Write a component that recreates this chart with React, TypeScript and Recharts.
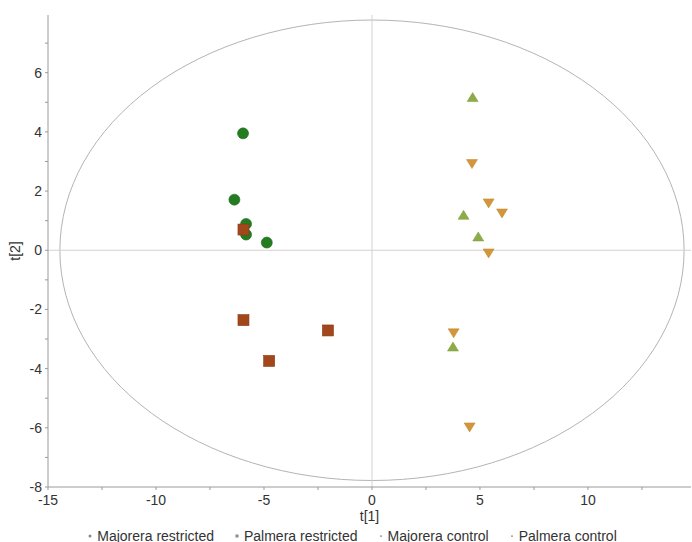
import {
  ScatterChart,
  Scatter,
  XAxis,
  YAxis,
  ReferenceLine,
  ReferenceArea,
  Legend,
} from "recharts";

// score values
const majoreraRestrictedT1 = [-5.97, -6.37, -5.83, -5.83, -4.87];
const majoreraRestrictedT2 = [3.95, 1.71, 0.89, 0.53, 0.26];
const palmeraRestrictedT1 = [-5.95, -5.95, -4.76, -2.04];
const palmeraRestrictedT2 = [0.7, -2.36, -3.74, -2.71];
const majoreraControlT1 = [4.66, 4.24, 4.92, 3.75];
const majoreraControlT2 = [5.16, 1.18, 0.45, -3.27];
const palmeraControlT1 = [4.63, 5.4, 6.02, 5.4, 3.78, 4.52];
const palmeraControlT2 = [2.93, 1.6, 1.26, -0.09, -2.79, -5.97];

const seriesNames = [
  "Majorera restricted",
  "Palmera restricted",
  "Majorera control",
  "Palmera control",
];

const xTicks = [-15, -12.5, -10, -7.5, -5, -2.5, 0, 2.5, 5, 7.5, 10, 12.5];
const yTicks = [-8, -7, -6, -5, -4, -3, -2, -1, 0, 1, 2, 3, 4, 5, 6, 7];

// Hotelling T2 ellipse half-axes
const ellipseT1 = 14.45;
const ellipseT2 = 7.78;

const pts = (xs: number[], ys: number[]) => xs.map((x, i) => ({ x, y: ys[i] }));

const font = "'Liberation Sans', Arial, sans-serif";

const Circle = (p: any) => (
  <circle cx={p.cx} cy={p.cy} r={5.5} fill="#237d20" stroke="#1b6a18" strokeWidth={0.6} />
);
const Square = (p: any) => (
  <rect x={p.cx - 5.5} y={p.cy - 5.5} width={11} height={11} fill="#a2461c" stroke="#8a3a16" strokeWidth={0.6} />
);
const TriUp = (p: any) => (
  <path
    d={`M${p.cx},${p.cy - 5} L${p.cx + 5.5},${p.cy + 4} L${p.cx - 5.5},${p.cy + 4} Z`}
    fill="#8dac46"
    stroke="#7a9a3a"
    strokeWidth={0.5}
  />
);
const TriDown = (p: any) => (
  <path
    d={`M${p.cx - 5.5},${p.cy - 4} L${p.cx + 5.5},${p.cy - 4} L${p.cx},${p.cy + 5} Z`}
    fill="#d4963a"
    stroke="#bf8430"
    strokeWidth={0.5}
  />
);

const legendMarks = [
  <circle cx={2} cy={2} r={1.5} fill="#8a8a8a" />,
  <rect x={0.5} y={0.5} width={3} height={3} fill="#8a8a8a" />,
  <rect x={1} y={1.5} width={2} height={1.2} fill="#8a8a8a" />,
  <rect x={1} y={1.5} width={2} height={1.2} fill="#8a8a8a" />,
];

function LegendBox() {
  return (
    <div
      style={{
        height: 19,
        position: "relative",
        top: 3,
        display: "flex",
        justifyContent: "center",
        alignItems: "center",
        gap: 21,
        fontFamily: font,
        fontSize: 14,
        color: "#333",
        paddingLeft: 14,
      }}
    >
      {seriesNames.map((n, i) => (
        <span key={n} style={{ display: "flex", alignItems: "center" }}>
          <svg width={4} height={4} style={{ marginRight: 5 }}>
            {legendMarks[i]}
          </svg>
          {n}
        </span>
      ))}
    </div>
  );
}

export default function App() {
  return (
    <div style={{ position: "absolute", left: 0, top: 0, background: "#fff" }}>
      <ScatterChart
        width={692}
        height={542}
        margin={{ top: 15, right: 1, bottom: 0, left: 0 }}
      >
        <XAxis
          type="number"
          dataKey="x"
          domain={[-15, 14.77]}
          ticks={xTicks}
          interval={0}
          tickFormatter={(v: number) => (v % 5 === 0 ? String(v) : "")}
          height={36}
          tickSize={3}
          tickMargin={5}
          stroke="#9a9a9a"
          tick={{ fill: "#333", fontSize: 14, fontFamily: font }}
          label={{
            value: "t[1]",
            position: "insideBottom",
            offset: 2,
            fill: "#333",
            fontSize: 14,
            fontFamily: font,
          }}
        />
        <YAxis
          type="number"
          dataKey="y"
          domain={[-8, 7.95]}
          ticks={yTicks}
          interval={0}
          tickFormatter={(v: number) => (v % 2 === 0 && v < 7 ? String(v) : "")}
          width={48}
          tickSize={3}
          tickMargin={3}
          stroke="#9a9a9a"
          tick={{ fill: "#333", fontSize: 14, fontFamily: font }}
          label={{
            value: "t[2]",
            angle: -90,
            position: "insideLeft",
            offset: 15,
            fill: "#333",
            fontSize: 14,
            fontFamily: font,
            style: { textAnchor: "middle" },
          }}
        />
        <ReferenceLine x={0} stroke="#d2d2d2" />
        <ReferenceLine y={0} stroke="#d2d2d2" />
        <ReferenceArea
          x1={-ellipseT1}
          x2={ellipseT1}
          y1={-ellipseT2}
          y2={ellipseT2}
          shape={(p: any) => (
            <ellipse
              cx={p.x + p.width / 2}
              cy={p.y + p.height / 2}
              rx={Math.abs(p.width) / 2}
              ry={Math.abs(p.height) / 2}
              fill="none"
              stroke="#b4b4b4"
              strokeWidth={1}
            />
          )}
        />
        <Scatter name={seriesNames[0]} data={pts(majoreraRestrictedT1, majoreraRestrictedT2)} shape={Circle} isAnimationActive={false} />
        <Scatter name={seriesNames[1]} data={pts(palmeraRestrictedT1, palmeraRestrictedT2)} shape={Square} isAnimationActive={false} />
        <Scatter name={seriesNames[2]} data={pts(majoreraControlT1, majoreraControlT2)} shape={TriUp} isAnimationActive={false} />
        <Scatter name={seriesNames[3]} data={pts(palmeraControlT1, palmeraControlT2)} shape={TriDown} isAnimationActive={false} />
        <Legend verticalAlign="bottom" content={() => <LegendBox />} />
      </ScatterChart>
    </div>
  );
}
